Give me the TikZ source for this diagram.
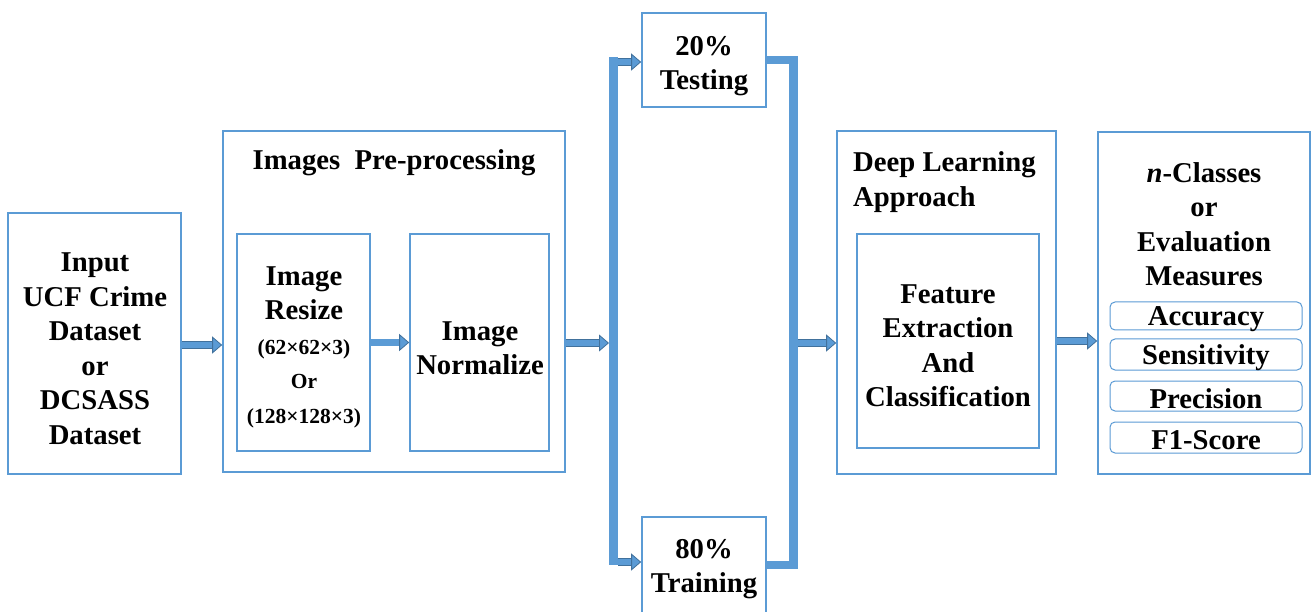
\documentclass[tikz,border=0pt]{standalone}
\usepackage{fontspec}
\setmainfont{Liberation Serif}
\usetikzlibrary{arrows.meta}
\definecolor{boxblue}{HTML}{5B9BD5}
\definecolor{arrowdark}{HTML}{41719C}
\begin{document}
\begin{tikzpicture}[x=1pt,y=-1pt,
  box/.style={draw=boxblue, line width=1.6pt, inner sep=0pt, fill=white},
  metric/.style={draw=boxblue, line width=1pt, rounded corners=5pt, minimum width=192pt, inner sep=0pt},
  txt/.style={font=\bfseries\fontsize{28.7}{34.5}\selectfont, align=center, inner sep=0pt},
  flow/.style={line width=6pt, draw=boxblue,
    -{Triangle[length=10pt,width=17pt,fill=boxblue,color=arrowdark,line width=0.8pt]},
    preaction={draw=arrowdark, line width=7.6pt, -, shorten >=9pt}},
  bar/.style={draw=boxblue, line width=8.5pt}
]
\useasboundingbox (0,0) rectangle (1312,612);

% boxes
\node[box, minimum width=173pt, minimum height=261pt] (input) at (94.5,343.5) {};
\node[box, minimum width=342pt, minimum height=341pt] (pre) at (394,301.5) {};
\node[box, minimum width=133pt, minimum height=217pt] (resize) at (303.5,342.5) {};
\node[box, minimum width=139pt, minimum height=217pt] (norm) at (479.5,342.5) {};
\node[box, minimum width=124pt, minimum height=94pt] (test) at (704,60) {};
\node[box, minimum width=124pt, minimum height=96pt] (train) at (704,565) {};
\node[box, minimum width=219pt, minimum height=343pt] (dl) at (946.5,302.5) {};
\node[box, minimum width=182pt, minimum height=214pt] (feat) at (948,341) {};
\node[box, minimum width=212pt, minimum height=342pt] (eval) at (1204,303) {};

% texts
\node[txt] (inputtxt) at (95,348.5) {Input\\UCF Crime\\Dataset\\or\\DCSASS\\Dataset};
\node[txt] (pretitle) at (394,163) {Images\ \ Pre-processing};
\node[txt] (resizetxt) at (304,347) {Image\\Resize\\{\fontsize{21.5}{34.5}\selectfont(62×62×3)}\\{\fontsize{21.5}{34.5}\selectfont Or}\\{\fontsize{21.5}{34.5}\selectfont(128×128×3)}};
\node[txt] (normtxt) at (480,348) {Image\\Normalize};
\node[txt] (testtxt) at (704,66) {20\%\\Testing};
\node[txt] (traintxt) at (704,569) {80\%\\Training};
\node[txt, align=left, anchor=west] (dltitle) at (853,182) {Deep Learning\\Approach};
\node[txt] (feattxt) at (948,345.5) {Feature\\Extraction\\And\\Classification};
\node[txt] (evaltitle) at (1204,224) {\textit{n}-Classes\\or\\Evaluation\\Measures};

% evaluation measures
\node[metric, minimum height=28pt] (acc) at (1206,316) {};
\node[metric, minimum height=31pt] (sens) at (1206,354.5) {};
\node[metric, minimum height=30pt] (prec) at (1206,396) {};
\node[metric, minimum height=31pt] (f1) at (1206,437.5) {};
\node[txt] (acctxt) at ([yshift=-3pt]acc.center) {Accuracy};
\node[txt] (senstxt) at ([yshift=-3pt]sens.center) {Sensitivity};
\node[txt] (prectxt) at ([yshift=-3pt]prec.center) {Precision};
\node[txt] (f1txt) at ([yshift=-3pt]f1.center) {F1-Score};

% split and merge bars
\coordinate (splitT) at (613.5,57.5);
\coordinate (splitB) at (613.5,565);
\coordinate (splitIn) at (609,343);
\coordinate (mergeX) at (793.5,343);
\draw[bar] (splitT) -- (splitB);
\draw[bar] (test.east) -| (mergeX) |- (train.east);

% flow arrows
\draw[flow] (input.east |- 0,345) -- (pre.west |- 0,345);
\draw[flow] (resize.east) -- (norm.west);
\draw[flow] (pre.east |- splitIn) -- (splitIn);
\draw[flow] (618,62) -- (test.west |- 0,62);
\draw[flow] (618,562) -- (train.west |- 0,562);
\draw[flow] (798,343) -- (dl.west |- 0,343);
\draw[flow] (dl.east |- 0,341) -- (eval.west |- 0,341);
\end{tikzpicture}
\end{document}
